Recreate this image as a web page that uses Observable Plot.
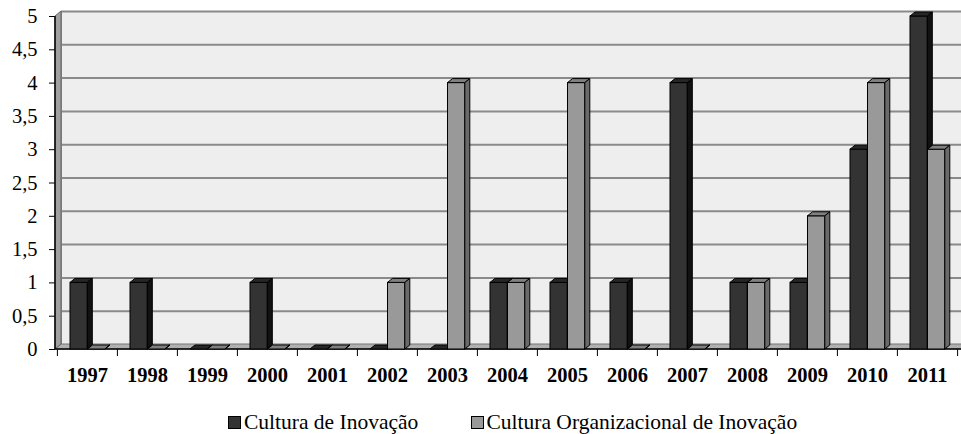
<!DOCTYPE html>
<html>
<head>
<meta charset="utf-8">
<script src="https://cdn.jsdelivr.net/npm/d3@7"></script>
<script src="https://cdn.jsdelivr.net/npm/@observablehq/plot@0.6"></script>
<style>
  html, body { margin: 0; padding: 0; background: white; }
  #chart { width: 961px; }
  #legend { position: relative; width: 961px; height: 34px; font-family: 'Liberation Serif', 'Times New Roman', serif; font-size: 21.5px; color: black; }
  #legend .sw { position: absolute; width: 11px; height: 11px; border: 1px solid black; top: 15.5px; }
  #legend .lb { position: absolute; top: 9.5px; line-height: normal; white-space: nowrap; }
</style>
</head>
<body>
<div id="chart"></div>
<div id="legend"></div>
<script>
const years = ["1997","1998","1999","2000","2001","2002","2003","2004","2005","2006","2007","2008","2009","2010","2011"];
const inovacao = [1,1,0,1,0,0,0,1,1,1,4,1,1,3,5];
const organizacional = [0,0,0,0,0,1,4,1,4,0,0,1,2,4,3];
const seriesNames = ["Cultura de Inovação", "Cultura Organizacional de Inovação"];
const seriesColors = ["#333333", "#999999"];
const topColors = ["#262626", "#808080"];
const sideColors = ["#111111", "#6a6a6a"];
const yTicks = [0, 0.5, 1, 1.5, 2, 2.5, 3, 3.5, 4, 4.5, 5];

const dataA = years.map((year, i) => ({year, value: inovacao[i], series: seriesNames[0]}));
const dataB = years.map((year, i) => ({year, value: organizacional[i], series: seriesNames[1]}));

const DX = 6, DY = -5;     // wall depth
const BDX = 5, BDY = -4;   // bar depth

const plot = Plot.plot({
  width: 961,
  height: 400,
  marginLeft: 55,
  marginRight: 3,
  marginTop: 16,
  marginBottom: 51,
  x: {domain: years, padding: 0, label: null},
  y: {domain: [0, 5], label: null},
  style: {fontFamily: "'Liberation Serif', 'Times New Roman', serif", fontSize: "20.5px", color: "black", background: "white"},
  marks: [
    Plot.frame({fill: "#eeeeee", stroke: "#8a8a8a", strokeWidth: 1, dx: DX, dy: DY}),
    Plot.ruleY(yTicks.filter(d => d > 0), {stroke: "#8a8a8a", strokeWidth: 2, dx: DX, dy: DY}),
    Plot.axisY({ticks: yTicks, tickSize: 6, tickPadding: 12, tickFormat: d => String(d).replace(".", ",")}),
    Plot.axisX({tickSize: 7, tickFormat: () => "", dx: -30.1}),
    Plot.axisX([years[years.length - 1]], {tickSize: 7, tickFormat: () => "", dx: 30.1}),
    Plot.axisX({tickSize: 0, tickPadding: 18, fontWeight: "bold"}),
    Plot.barY(dataA, {x: "year", y: "value", fill: seriesColors[0], stroke: "black", strokeWidth: 1, insetLeft: 13, insetRight: 29.7}),
    Plot.barY(dataB, {x: "year", y: "value", fill: seriesColors[1], stroke: "black", strokeWidth: 1, insetLeft: 30.5, insetRight: 12.2})
  ]
});
document.getElementById("chart").appendChild(plot);

// 3D decorations derived from the plot's scales
const svg = d3.select(plot);
const ys = plot.scale("y");
const y0 = ys.apply(0), y5 = ys.apply(5);
const xl = 55, xr = 961 - 3;
const deco = svg.insert("g", 'g[aria-label="bar"]');
// floor
deco.append("polygon")
  .attr("points", [[xl, y0], [xl + DX, y0 + DY], [xr + DX + 10, y0 + DY], [xr + 10, y0]].map(p => p.join(",")).join(" "))
  .attr("fill", "#b0b0b0").attr("stroke", "#777").attr("stroke-width", 1);
// left wall
deco.append("polygon")
  .attr("points", [[xl, y5], [xl + DX, y5 + DY], [xl + DX, y0 + DY], [xl, y0]].map(p => p.join(",")).join(" "))
  .attr("fill", "#a0a0a0").attr("stroke", "#666").attr("stroke-width", 1);
// axis lines
deco.append("line").attr("x1", xl).attr("x2", xl).attr("y1", y5).attr("y2", y0).attr("stroke", "black").attr("stroke-width", 1.5);
deco.append("line").attr("x1", xl).attr("x2", xr + 10).attr("y1", y0).attr("y2", y0).attr("stroke", "black").attr("stroke-width", 1.5);

// bar tops and sides
svg.selectAll('g[aria-label="bar"]').each(function(_, gi) {
  const g = this;
  const rects = Array.from(g.querySelectorAll("rect"));
  rects.forEach(r => {
    const x = +r.getAttribute("x"), y = +r.getAttribute("y");
    const w = +r.getAttribute("width"), h = +r.getAttribute("height");
    const top = document.createElementNS("http://www.w3.org/2000/svg", "polygon");
    top.setAttribute("points", [[x, y], [x + BDX, y + BDY], [x + w + BDX, y + BDY], [x + w, y]].map(p => p.join(",")).join(" "));
    top.setAttribute("fill", topColors[gi]); top.setAttribute("stroke", "black"); top.setAttribute("stroke-width", 1);
    top.setAttribute("stroke-linejoin", "round");
    const side = document.createElementNS("http://www.w3.org/2000/svg", "polygon");
    side.setAttribute("points", [[x + w, y], [x + w + BDX, y + BDY], [x + w + BDX, y + h + BDY], [x + w, y + h]].map(p => p.join(",")).join(" "));
    side.setAttribute("fill", sideColors[gi]); side.setAttribute("stroke", "black"); side.setAttribute("stroke-width", 1);
    side.setAttribute("stroke-linejoin", "round");
    r.after(top);
    top.after(side);
  });
});

// legend
const legend = document.getElementById("legend");
const legendPos = [[228, 244], [470.5, 486.5]];
seriesNames.forEach((name, i) => {
  const sw = document.createElement("span");
  sw.className = "sw";
  sw.style.left = legendPos[i][0] + "px";
  sw.style.background = seriesColors[i];
  legend.appendChild(sw);
  const lb = document.createElement("span");
  lb.className = "lb";
  lb.style.left = legendPos[i][1] + "px";
  lb.textContent = name;
  legend.appendChild(lb);
});
</script>
</body>
</html>
